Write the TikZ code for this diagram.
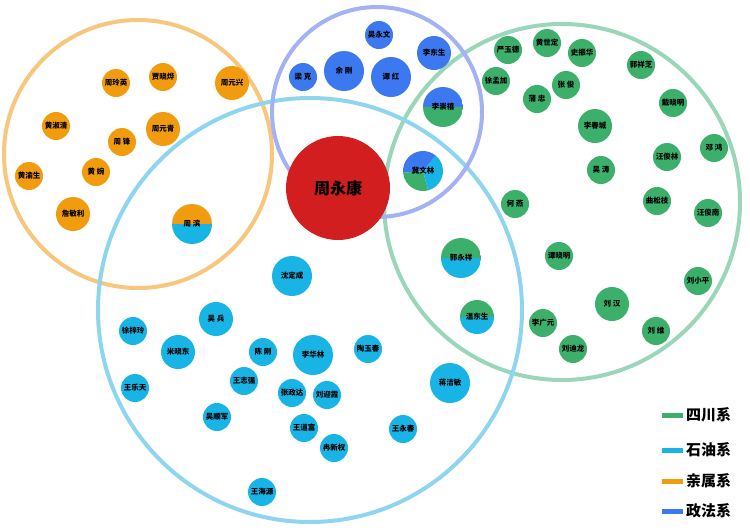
\documentclass[tikz,border=0pt]{standalone}
\usepackage{fontspec}
\setmainfont{Noto Sans CJK SC}
\definecolor{ngreen}{HTML}{3CAF6B}
\definecolor{ncyan}{HTML}{18B4E6}
\definecolor{norange}{HTML}{F19C0E}
\definecolor{nblue}{HTML}{3C78F0}
\definecolor{nred}{HTML}{D21E1E}
\definecolor{rgreen}{HTML}{9AD6B8}
\definecolor{rcyan}{HTML}{8ED6F0}
\definecolor{rorange}{HTML}{F6C77C}
\definecolor{rblue}{HTML}{A2B2F5}
\tikzset{
  ring/.style={line width=4pt},
  pn/.style={circle, inner sep=0pt, text=black, font=\bfseries\fontsize{7.5}{8}\selectfont},
  gn/.style={pn, fill=ngreen},
  cn/.style={pn, fill=ncyan},
  on/.style={pn, fill=norange},
  bn/.style={pn, fill=nblue},
  sm/.style={minimum size=28pt},
  md/.style={minimum size=34pt},
  lg/.style={minimum size=40pt},
  legline/.style={line width=5pt},
  legtext/.style={anchor=west, inner sep=0pt, font=\bfseries\fontsize{15}{16}\selectfont}
}
\newcommand{\twocol}[5]{% x, y, r, top colour, bottom colour
  \begin{scope}
    \clip (#1,#2) circle [radius=#3pt];
    \fill[#4] (#1-#3,#2-#3) rectangle (#1+#3,#2);
    \fill[#5] (#1-#3,#2) rectangle (#1+#3,#2+#3);
  \end{scope}}
\begin{document}
\begin{tikzpicture}[x=1pt,y=-1pt]
\useasboundingbox[fill=white] (0,0) rectangle (750,531);
% group rings
\draw[ring, rorange] (138,154) circle [radius=134pt];
\draw[ring, rgreen] (562,202) circle [radius=178pt];
\draw[ring, rcyan] (310,310) circle [radius=212pt];
\draw[ring, rblue] (377,112) circle [radius=105pt];

% central node
\node[circle, fill=nred, minimum size=104pt, inner sep=0pt, font=\bfseries\fontsize{16}{18}\selectfont] (zyk) at (338,188) {周永康};

% relatives
\node[on, sm] (zly) at (116,83) {周玲英};
\node[on, sm] (jxy) at (163,77) {贾晓烨};
\node[on, md] (zyx) at (232,83) {周元兴};
\node[on, sm] (hsq) at (56,126) {黄淑清};
\node[on, md] (zyq) at (163,129) {周元青};
\node[on, sm] (zf) at (122,142) {周 锋};
\node[on, sm] (hys) at (29,176) {黄渝生};
\node[on, sm] (hw) at (96,172) {黄 婉};
\node[on, md] (zml) at (73,214) {詹敏利};
\twocol{192}{224}{20}{norange}{ncyan}
\node[pn, lg] (zb) at (192,224) {周 滨};

% politics-legal
\node[bn, sm] (wyw) at (379,35) {吴永文};
\node[bn, md] (lds) at (434,53) {李东生};
\node[bn, sm] (lk) at (303,77) {梁 克};
\node[bn, lg] (yg) at (344,71) {余 刚};
\node[bn, lg] (th) at (391,77) {谭 红};
\twocol{443}{107}{20}{nblue}{ngreen}
\node[pn, lg] (lcx) at (443,107) {李崇禧};
\fill[nblue] (423,171) -- ++(50:20pt) arc [start angle=50, end angle=185, radius=20pt] -- cycle;
\fill[ngreen] (423,171) -- ++(185:20pt) arc [start angle=185, end angle=285, radius=20pt] -- cycle;
\fill[ncyan] (423,171) -- ++(285:20pt) arc [start angle=285, end angle=410, radius=20pt] -- cycle;
\node[pn, lg] (jwl) at (423,171) {冀文林};

% Sichuan
\node[gn, sm] (yyd) at (508,50) {严玉德};
\node[gn, sm] (hsd) at (547,43) {黄世定};
\node[gn, sm] (szh) at (582,53) {史振华};
\node[gn, sm] (gxz) at (641,65) {郭祥芝};
\node[gn, sm] (xmj) at (496,81) {徐孟加};
\node[gn, sm] (zj) at (566,85) {张 俊};
\node[gn, sm] (pz) at (537,99) {蒲 忠};
\node[gn, sm] (dxm) at (673,103) {戴晓明};
\node[gn, md] (lcc) at (595,126) {李春城};
\node[gn, sm] (dh) at (714,148) {邓 鸿};
\node[gn, sm] (wjl) at (667,157) {汪俊林};
\node[gn, sm] (wt) at (601,170) {吴 涛};
\node[gn, sm] (hy) at (515,204) {何 燕};
\node[gn, sm] (qsz) at (657,201) {曲松枝};
\node[gn, sm] (wjn) at (708,213) {汪俊南};
\twocol{461}{258}{20}{ngreen}{ncyan}
\node[pn, lg] (gyx) at (461,258) {郭永祥};
\node[gn, sm] (txm) at (559,256) {谭晓明};
\node[gn, sm] (lxp) at (698,281) {刘小平};
\node[gn, md] (lh) at (612,304) {刘 汉};
\twocol{477}{317}{17}{ngreen}{ncyan}
\node[pn, md] (wds) at (477,317) {温东生};
\node[gn, sm] (lgy) at (543,323) {李广元};
\node[gn, sm] (lw) at (656,331) {刘 维};
\node[gn, sm] (ldl) at (573,349) {刘迪龙};

% petroleum
\node[cn, lg] (sdc) at (292,276) {沈定成};
\node[cn, md] (wb) at (216,319) {吴 兵};
\node[cn, sm] (xzl) at (133,331) {徐梓玲};
\node[cn, md] (mxd) at (178,352) {米晓东};
\node[cn, sm] (cg) at (263,352) {陈 刚};
\node[cn, sm] (wlt) at (135,388) {王乐天};
\node[cn, sm] (wzq) at (244,381) {王志强};
\node[cn, sm] (wsj) at (217,417) {吴顺军};
\node[cn, lg] (lhl) at (313,355) {李华林};
\node[cn, sm] (tyc) at (368,349) {陶玉春};
\node[cn, sm] (zzd) at (292,393) {张政达};
\node[cn, sm] (lyx) at (327,395) {刘迎霞};
\node[cn, sm] (wdf) at (304,428) {王道富};
\node[cn, sm] (rxq) at (334,448) {冉新权};
\node[cn, lg] (jjm) at (450,383) {蒋洁敏};
\node[cn, sm] (wyc) at (403,429) {王永春};
\node[cn, sm] (why) at (262,492) {王海源};

% legend
\coordinate (l1a) at (662,415); \coordinate (l1b) at (683,415);
\coordinate (l2a) at (662,450); \coordinate (l2b) at (683,450);
\coordinate (l3a) at (662,481); \coordinate (l3b) at (683,481);
\coordinate (l4a) at (662,511); \coordinate (l4b) at (683,511);
\draw[legline, ngreen] (l1a) -- (l1b);
\draw[legline, ncyan] (l2a) -- (l2b);
\draw[legline, norange] (l3a) -- (l3b);
\draw[legline, nblue] (l4a) -- (l4b);
\node[legtext] (t1) at (686,415) {四川系};
\node[legtext] (t2) at (686,450) {石油系};
\node[legtext] (t3) at (686,481) {亲属系};
\node[legtext] (t4) at (686,511) {政法系};
\end{tikzpicture}
\end{document}
